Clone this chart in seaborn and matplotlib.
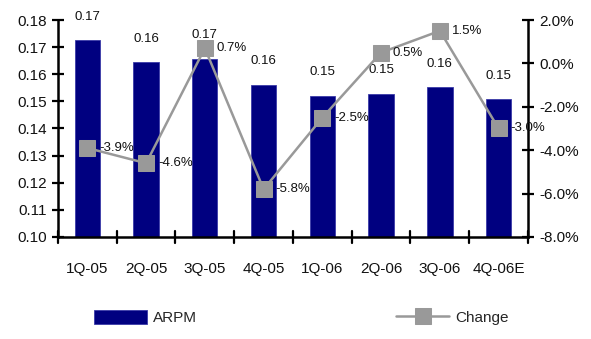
import matplotlib
matplotlib.use("Agg")
import matplotlib.pyplot as plt
import seaborn as sns
import pandas as pd

quarters = ["1Q-05", "2Q-05", "3Q-05", "4Q-05", "1Q-06", "2Q-06", "3Q-06", "4Q-06E"]
arpm = [0.1725, 0.1645, 0.1657, 0.1561, 0.1521, 0.1528, 0.1552, 0.1507]
change_pct = [-3.9, -4.6, 0.7, -5.8, -2.5, 0.5, 1.5, -3.0]

sns.set_theme(style="white")
plt.rcParams["font.family"] = ["Liberation Sans", "DejaVu Sans"]

df = pd.DataFrame({"quarter": quarters, "ARPM": arpm, "Change": change_pct})

fig = plt.figure(figsize=(5.91, 3.39), dpi=100)
ax = fig.add_axes([0.0981, 0.3009, 0.7953, 0.6401])

navy = "#000080"
gray = "#999999"

sns.barplot(data=df, x="quarter", y="ARPM", color=navy, saturation=1,
            width=0.43, edgecolor="#3a3aa8", linewidth=0.6, ax=ax, label="ARPM")
ax.set_ylim(0.10, 0.18)
ax.set_yticks([0.10, 0.11, 0.12, 0.13, 0.14, 0.15, 0.16, 0.17, 0.18])
ax.set_yticklabels([f"{v:.2f}" for v in ax.get_yticks()])
ax.set_xlim(-0.5, len(quarters) - 0.5)
ax.set_xlabel("")
ax.set_ylabel("")

for i, v in enumerate(arpm):
    ax.annotate(f"{v:.2f}", (i, v), xytext=(0, 12.5), textcoords="offset points",
                ha="center", va="bottom", fontsize=9.5, color="#111111")

ax2 = ax.twinx()
sns.lineplot(data=df, x="quarter", y="Change", color=gray, marker="s",
             markersize=11, markeredgecolor=gray, linewidth=1.8, ax=ax2,
             label="Change", legend=False)
ax2.set_ylim(-8, 2)
ax2.set_yticks([-8, -6, -4, -2, 0, 2])
ax2.set_yticklabels([f"{v:.1f}%" for v in [-8, -6, -4, -2, 0, 2]])
ax2.set_ylabel("")
ax2.set_xlabel("")

for i, v in enumerate(change_pct):
    ax2.annotate(f"{v:.1f}%", (i, v), xytext=(8.5, 0), textcoords="offset points",
                 ha="left", va="center", fontsize=9.5, color="#111111")

# x ticks sit at the category boundaries; labels are placed separately at centres
ax.set_xticks([i for i in range(len(quarters))])
ax.set_xticklabels(quarters)
ax.tick_params(axis="x", length=0, pad=18, labelsize=11, colors="#111111")
for b in range(len(quarters) + 1):
    ax.plot([b - 0.5, b - 0.5], [0.0978, 0.1022], color="black", lw=1.6,
            clip_on=False, zorder=5)

ax.tick_params(axis="y", direction="inout", length=9, width=1.6, labelsize=11,
               colors="black", labelcolor="#111111", left=True)
ax2.tick_params(axis="y", direction="inout", length=9, width=1.6, labelsize=11,
                colors="black", labelcolor="#111111", right=True)

for a in (ax, ax2):
    for s in a.spines.values():
        s.set_visible(False)
ax.spines["left"].set_visible(True)
ax.spines["bottom"].set_visible(True)
ax2.spines["right"].set_visible(True)
for s in (ax.spines["left"], ax.spines["bottom"], ax2.spines["right"]):
    s.set_color("black")
    s.set_linewidth(1.8)

h1, l1 = ax.get_legend_handles_labels()
h2, l2 = ax2.get_legend_handles_labels()
leg = fig.legend(h1 + h2, l1 + l2, loc="lower center", bbox_to_anchor=(0.51, 0.0),
                 ncol=2, frameon=False, fontsize=11, handlelength=3.5,
                 handleheight=1.0, columnspacing=13, handletextpad=0.4)
if ax.get_legend():
    ax.get_legend().remove()

fig.savefig("out.png", dpi=100)
